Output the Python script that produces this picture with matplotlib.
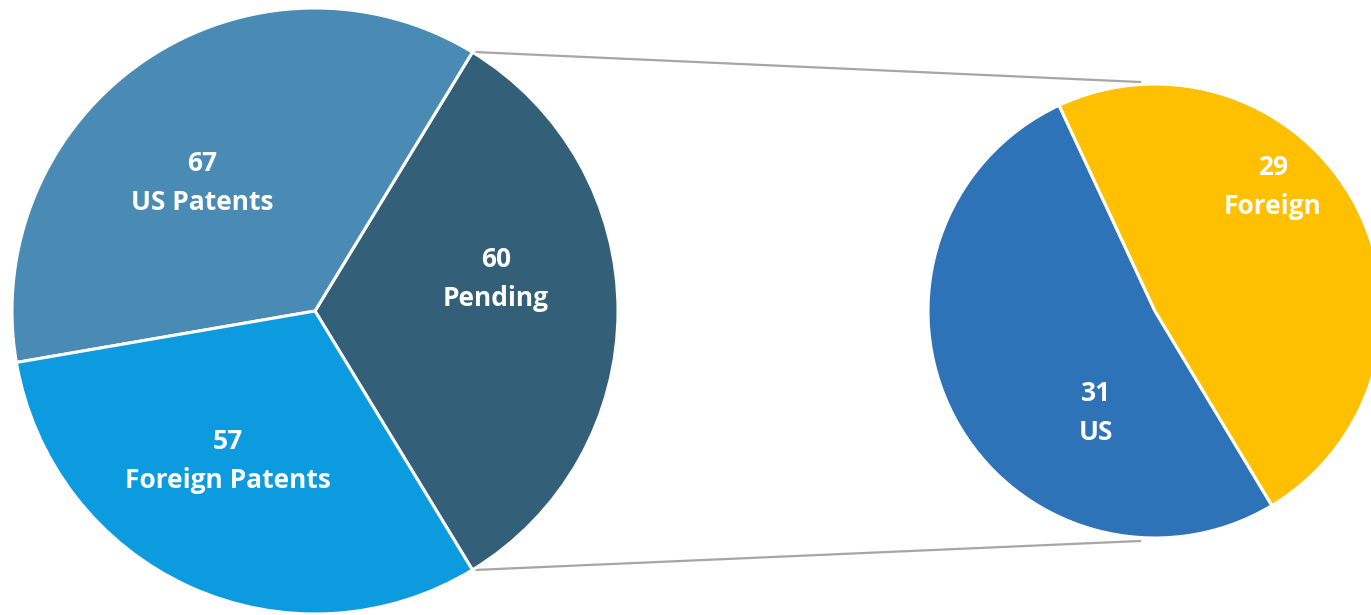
import matplotlib
matplotlib.use("Agg")
import matplotlib.pyplot as plt
import numpy as np

# main pie (left) and breakdown of "Pending" (right)
main_labels = ["Pending", "US Patents", "Foreign Patents"]
main_values = [60, 67, 57]
main_colors = ["#336078", "#4A8BB5", "#0C9BDE"]

sub_labels = ["US", "Foreign"]
sub_values = [31, 29]
sub_colors = ["#2E72B7", "#FEC000"]

W, H = 1371, 615
fig = plt.figure(figsize=(W / 100, H / 100), dpi=100)
ax = fig.add_axes([0, 0, 1, 1])

c1, r1 = (315, H - 311), 303
c2, r2 = (1155, H - 311), 227

wedge_kw = dict(edgecolor="white", linewidth=2.2)
start1 = -360 * main_values[0] / sum(main_values) / 2
w1, _ = ax.pie(main_values, colors=main_colors, startangle=start1, center=c1,
               radius=r1, wedgeprops=wedge_kw, frame=True)
w2, _ = ax.pie(sub_values, colors=sub_colors, startangle=115, center=c2,
               radius=r2, wedgeprops=wedge_kw, frame=True)

# connector lines from the Pending slice to the top/bottom of the small pie
pend = w1[0]
for ang, yoff in ((pend.theta2, r2), (pend.theta1, -r2)):
    x0 = c1[0] + r1 * np.cos(np.radians(ang))
    y0 = c1[1] + r1 * np.sin(np.radians(ang))
    ax.plot([x0 + 4, c2[0] - 15], [y0, c2[1] + yoff + (2 if yoff > 0 else -3)],
            color="#A6A6A6", lw=1.6, zorder=0)

# label positions (pixels from top-left)
main_pos = [(496, 279), (202, 183), (228, 461)]
sub_pos = [(1096, 413), (1273, 187)]
font = dict(color="white", fontsize=19, fontweight="bold",
            family=["Open Sans", "DejaVu Sans"], ha="center", va="center",
            linespacing=1.6)
for (x, y), v, lab in zip(main_pos, main_values, main_labels):
    ax.text(x, H - y, f"{v}\n{lab}", **font)
for (x, y), v, lab in zip(sub_pos, sub_values, sub_labels):
    ax.text(x, H - y, f"{v}\n{lab}", **font)

ax.set_xlim(0, W)
ax.set_ylim(0, H)
ax.set_aspect("equal")
ax.axis("off")
fig.savefig("out.png", dpi=100)
